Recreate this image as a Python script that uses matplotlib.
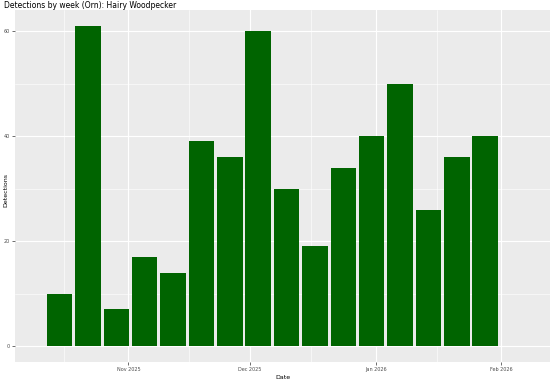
import numpy as np
import pandas as pd
import matplotlib
matplotlib.use('Agg')
import matplotlib.pyplot as plt
import matplotlib.dates as mdates

# weekly detections
week_start = pd.date_range('2025-10-15', periods=16, freq='7D')
detections = [10, 61, 7, 17, 14, 39, 36, 60, 30, 19, 34, 40, 50, 26, 36, 40]

y_breaks = [0, 20, 40, 60]
x_breaks = pd.to_datetime(['2025-11-01', '2025-12-01', '2026-01-01', '2026-02-01'])
x_labels = ['Nov 2025', 'Dec 2025', 'Jan 2026', 'Feb 2026']
x_minor = pd.to_datetime(['2025-10-16', '2025-11-16', '2025-12-16', '2026-01-16'])

fig = plt.figure(figsize=(5.53, 3.79), dpi=100)
ax = fig.add_axes([15 / 553, 17 / 379, 535 / 553, 352 / 379])
ax.set_facecolor('#EBEBEB')

ax.bar(week_start, detections, width=6.3, color='#006400', zorder=3)

ax.set_ylim(-3.05, 64.05)
ax.set_xlim(pd.Timestamp('2025-10-04'), pd.Timestamp('2026-02-13'))

ax.set_yticks(y_breaks)
ax.set_yticklabels([str(v) for v in y_breaks])
ax.set_yticks([10, 30, 50], minor=True)
ax.set_xticks(x_breaks)
ax.set_xticklabels(x_labels)
ax.set_xticks(x_minor, minor=True)

ax.grid(which='major', color='white', linewidth=0.8, zorder=0)
ax.grid(which='minor', color='white', linewidth=0.4, zorder=0)
ax.set_axisbelow(True)
for s in ax.spines.values():
    s.set_visible(False)

ax.tick_params(which='major', length=2, width=0.5, color='#333333',
               labelsize=3.5, labelcolor='#4D4D4D', pad=1.5)
ax.tick_params(which='minor', length=0)

ax.set_xlabel('Date', fontsize=4.5, labelpad=2)
fig.text(6 / 553, 1 - 190 / 379, 'Detections', fontsize=4.5, rotation=90,
         ha='center', va='center')
fig.text(4 / 553, 1 - 6 / 379, 'Detections by week (Orn): Hairy Woodpecker',
         fontsize=5.5, ha='left', va='center')

fig.savefig('out.png', dpi=100)
